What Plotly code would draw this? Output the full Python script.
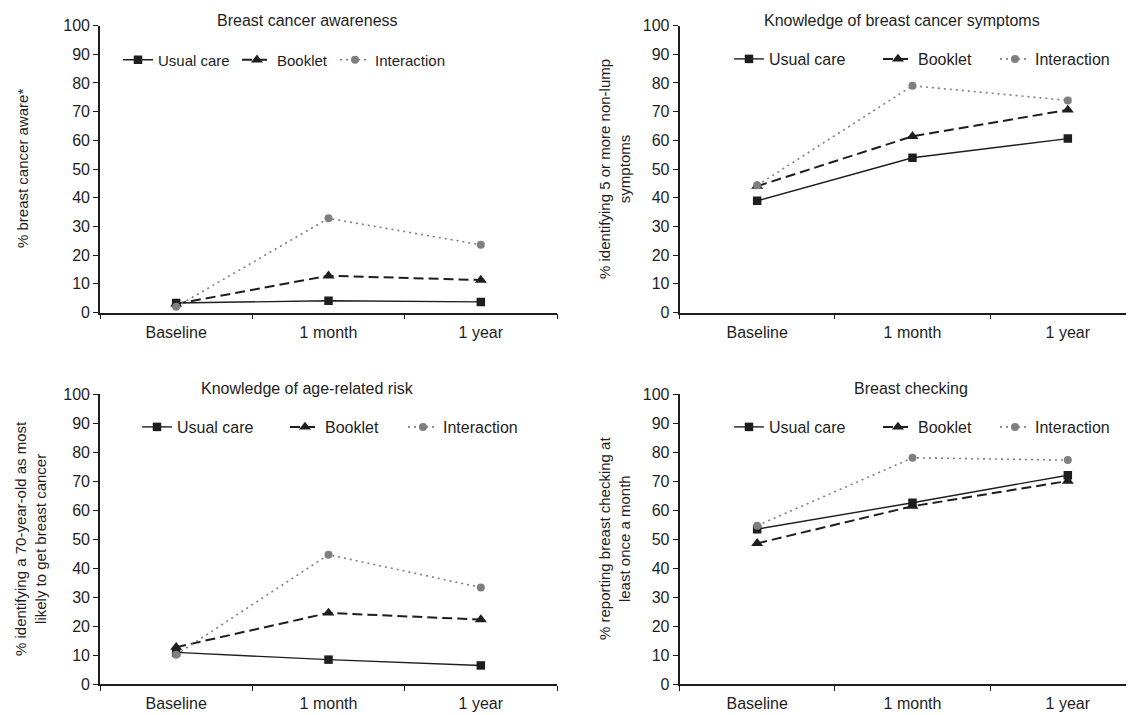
import plotly.graph_objects as go

categories = ["Baseline", "1 month", "1 year"]
series_names = ["Usual care", "Booklet", "Interaction"]

awareness_usual = [3.3, 4.1, 3.7]
awareness_booklet = [3.0, 12.8, 11.3]
awareness_interaction = [2.0, 32.8, 23.6]

symptoms_usual = [38.9, 53.9, 60.6]
symptoms_booklet = [44.0, 61.4, 70.6]
symptoms_interaction = [44.3, 79.0, 73.9]

age_usual = [10.9, 8.4, 6.4]
age_booklet = [12.7, 24.5, 22.2]
age_interaction = [10.1, 44.6, 33.3]

checking_usual = [53.4, 62.5, 72.0]
checking_booklet = [48.5, 61.3, 70.0]
checking_interaction = [54.6, 78.0, 77.2]

panel_titles = ["Breast cancer awareness", "Knowledge of breast cancer symptoms",
                "Knowledge of age-related risk", "Breast checking"]
y_titles = ["% breast cancer aware*",
            "% identifying 5 or more non-lump<br>symptoms",
            "% identifying a 70-year-old as most<br>likely to get breast cancer",
            "% reporting breast checking at<br>least once a month"]

panels = [
    (awareness_usual, awareness_booklet, awareness_interaction),
    (symptoms_usual, symptoms_booklet, symptoms_interaction),
    (age_usual, age_booklet, age_interaction),
    (checking_usual, checking_booklet, checking_interaction),
]

# page body has an 8px margin; figure sized to fit the window exactly
OFF = 8
SCREEN_W, SCREEN_H = 1134, 715
W, H = SCREEN_W - OFF, SCREEN_H - OFF
FONT = "Liberation Sans, Arial, sans-serif"
INK = "#1e1e1e"
GREY = "#7f7f7f"

# pixel geometry in screen coordinates
left_x = (100, 557)
right_x = (679.5, 1145.5)
top_y = (312.5, 25.5)
bot_y = (684.0, 394.0)

def fx(p):
    return (p - OFF) / W

def fy(p):
    return 1 - (p - OFF) / H

geom = [(left_x, top_y), (right_x, top_y), (left_x, bot_y), (right_x, bot_y)]

styles = [
    dict(line=dict(color=INK, width=1.4), marker=dict(symbol="square", size=8.5, color=INK)),
    dict(line=dict(color=INK, width=2, dash="10px,5px"), marker=dict(symbol="triangle-up", size=10.5, color=INK)),
    dict(line=dict(color=GREY, width=1.6, dash="2px,4px"), marker=dict(symbol="circle", size=8, color=GREY)),
]

# legend text start x positions (screen px) and legend centre y per panel
legend_text_x = [(158, 277, 375), (769, 918, 1035), (177, 325, 443), (769, 918, 1035)]
legend_y = [60, 59, 427, 427]
legend_size = [15, 16, 16, 16]

fig = go.Figure()
layout = dict(width=W, height=H, margin=dict(l=0, r=0, t=0, b=0, autoexpand=False),
              paper_bgcolor="white", plot_bgcolor="white",
              font=dict(family=FONT, color=INK, size=16))
annotations = []

leg_idx = 0
for i, ((xs, ys), vals) in enumerate(zip(geom, panels)):
    k = "" if i == 0 else str(i + 1)
    xa, ya = "x" + k, "y" + k
    for j, (name, v, st) in enumerate(zip(series_names, vals, styles)):
        leg_idx += 1
        leg = "legend" if leg_idx == 1 else "legend" + str(leg_idx)
        fig.add_trace(go.Scatter(x=categories, y=v, name=name, mode="lines+markers",
                                 line=st["line"], marker=st["marker"],
                                 xaxis=xa, yaxis=ya, legend=leg, showlegend=True))
        layout[leg] = dict(orientation="h", x=fx(legend_text_x[i][j] - 40), y=fy(legend_y[i]),
                           xanchor="left", yanchor="middle",
                           font=dict(size=legend_size[i], color=INK), bgcolor="rgba(0,0,0,0)",
                           itemclick=False, itemdoubleclick=False)
    x0, x1 = xs
    cat_w = (x1 - x0) / 3
    vis_x1 = min(x1, SCREEN_W)
    rng_hi = -0.5 + (vis_x1 - x0) / cat_w
    layout["xaxis" + k] = dict(domain=[fx(x0), fx(vis_x1)], anchor=ya, type="category",
                               range=[-0.5, rng_hi], showline=True, linecolor=INK, linewidth=1.6,
                               ticks="outside", ticklen=5, tickwidth=1.3, tickcolor=INK,
                               tickson="boundaries", showgrid=False, zeroline=False,
                               automargin=False, ticklabelstandoff=4,
                               tickfont=dict(size=16, color=INK), fixedrange=True)
    layout["yaxis" + k] = dict(domain=[fy(ys[0]), fy(ys[1])], anchor=xa, range=[0, 100],
                               dtick=10, showline=True, linecolor=INK, linewidth=1.6,
                               ticks="outside", ticklen=5, tickwidth=1.3, tickcolor=INK,
                               showgrid=False, zeroline=False, automargin=False,
                               tickfont=dict(size=16, color=INK), fixedrange=True)
    tcx = [307, 902, 307, 911][i]
    tcy = [21, 21, 389, 389][i]
    annotations.append(dict(text=panel_titles[i], x=fx(tcx), y=fy(tcy), xref="paper", yref="paper",
                            xanchor="center", yanchor="middle", showarrow=False,
                            font=dict(size=16, color=INK)))
    ycx = [22, 614, 30, 614][i]
    ycy = (ys[0] + ys[1]) / 2
    annotations.append(dict(text=y_titles[i], x=fx(ycx), y=fy(ycy), xref="paper", yref="paper",
                            xanchor="center", yanchor="middle", showarrow=False, textangle=-90,
                            font=dict(size=15, color=INK)))

layout["annotations"] = annotations
fig.update_layout(**layout)
fig.write_html("out.html")
